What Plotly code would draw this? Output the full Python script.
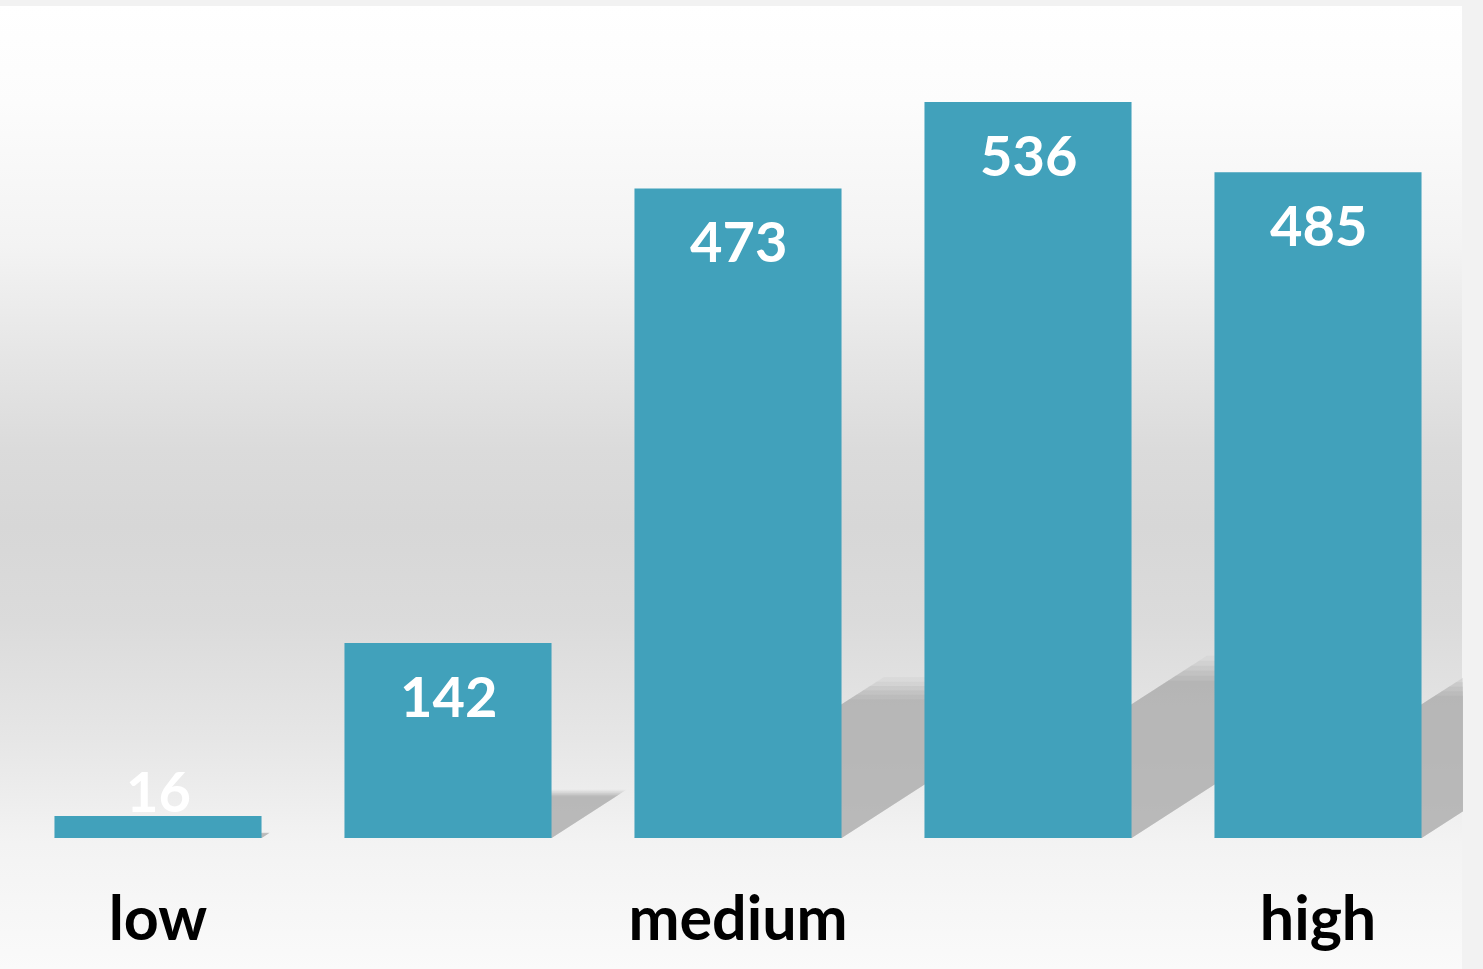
import base64
import plotly.graph_objects as go

# ---- data ----
positions = [0, 1, 2, 3, 4]
values = [16, 142, 473, 536, 485]
tick_positions = [0, 2, 4]
tick_labels = ["low", "medium", "high"]

# ---- layout geometry ----
W, H = 1483, 969
ML, MR, MT, MB = 13, 20, 6, 131
plot_w = W - ML - MR          # 1450
plot_h = H - MT - MB          # 832
y_max = 606
px_per_unit = plot_h / y_max
px_per_cat = plot_w / 5

BAR_COLOR = "#41a1bb"
FONT = "Lato"

# background gradient as svg
stops = [
    (0.00, "#ffffff"), (0.10, "#fcfcfc"), (0.25, "#f3f3f3"), (0.36, "#e6e6e6"),
    (0.46, "#dbdbdb"), (0.54, "#d7d7d7"), (0.64, "#dbdbdb"), (0.76, "#e6e6e6"),
    (0.87, "#f3f3f3"), (1.00, "#fafafa"),
]
stop_xml = "".join(f'<stop offset="{o}" stop-color="{c}"/>' for o, c in stops)
svg = (
    '<svg xmlns="http://www.w3.org/2000/svg" width="100" height="100" preserveAspectRatio="none">'
    '<defs><linearGradient id="g" x1="0" y1="0" x2="0" y2="1">' + stop_xml +
    '</linearGradient></defs><rect width="100" height="100" fill="url(#g)"/></svg>'
)
svg_uri = "data:image/svg+xml;base64," + base64.b64encode(svg.encode()).decode()

fig = go.Figure()
fig.add_trace(go.Bar(
    x=positions, y=values,
    marker=dict(color=BAR_COLOR, line=dict(width=0)),
    hoverinfo="skip",
))

# shadows (decorative, soft edges), derived from values
shapes = []
half = (207 / px_per_cat) / 2
layers = [(1.10, 0.12), (1.07, 0.15), (1.04, 0.2), (1.01, 0.25), (0.98, 0.3), (0.95, 0.35)]
for xv, v in zip(positions, values):
    hs = 0.225 * v
    dx = 1.55 * hs * px_per_unit / px_per_cat
    for k, op in layers:
        h2 = hs * k
        d2 = dx * k
        path = (f"M {xv-half},0 L {xv+half},0 L {xv+half+d2},{h2} "
                f"L {xv-half+d2},{h2} Z")
        shapes.append(dict(type="path", path=path, xref="x", yref="y",
                           fillcolor="#acacac", opacity=op,
                           line=dict(width=0), layer="below"))

# value labels
annotations = []
for xv, v in zip(positions, values):
    center_px = max(v * px_per_unit - 52, 48)
    annotations.append(dict(
        x=xv, y=0, xref="x", yref="y", yshift=center_px,
        text=str(v), showarrow=False, yanchor="middle", xanchor="center",
        font=dict(family=FONT, size=56, color="white", weight="bold"),
    ))

fig.update_layout(
    width=W, height=H,
    margin=dict(l=ML, r=MR, t=MT, b=MB, pad=0),
    paper_bgcolor="#f2f2f2",
    plot_bgcolor="rgba(0,0,0,0)",
    showlegend=False,
    bargap=0.286,
    shapes=shapes,
    annotations=annotations,
    images=[dict(
        source=svg_uri, xref="paper", yref="paper",
        x=-ML / plot_w, y=1.0, sizex=1462 / plot_w, sizey=(H - MT) / plot_h,
        xanchor="left", yanchor="top", sizing="stretch", layer="below",
    )],
    xaxis=dict(
        range=[-0.5, 4.5], tickmode="array", tickvals=tick_positions,
        ticktext=tick_labels, showgrid=False, zeroline=False, showline=False,
        ticks="", ticklabelstandoff=40,
        tickfont=dict(family=FONT, size=61, color="black", weight="bold"),
    ),
    yaxis=dict(range=[0, y_max], visible=False, showgrid=False, zeroline=False),
)

fig.write_html(
    "out.html",
    config={"displayModeBar": False},
    post_script="document.body.style.margin='0';document.body.style.overflow='hidden';",
)
